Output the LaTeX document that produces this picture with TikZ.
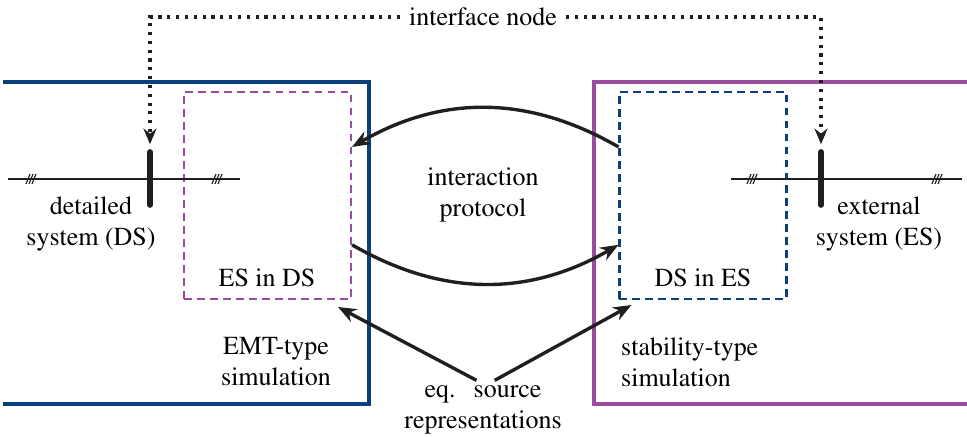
\documentclass[tikz,border=0pt]{standalone}
\usepackage[T1]{fontenc}
\usepackage{mathptmx}
\usetikzlibrary{arrows.meta,positioning}
\definecolor{simBlue}{HTML}{0B3F7E}
\definecolor{simPurple}{HTML}{9A4C9E}

\begin{document}
\begin{tikzpicture}[x=0.385pt, y=-0.385pt,
    simbox/.style={line width=1.2pt},
    subbox/.style={draw, dash pattern=on 3pt off 2pt, line width=0.8pt, minimum width=64.3pt, minimum height=79.7pt, inner sep=0pt},
    txt/.style={align=center},
    arr/.style={-{Stealth[length=7pt,width=5.5pt]}, line width=1.3pt, color=black!88},
    dotarr/.style={dash pattern=on 1.2pt off 2.2pt, line width=1.2pt, -{Stealth[length=6pt,width=5pt]}, color=black!88},
    bus/.style={line width=0.8pt, color=black!88},
    bar/.style={line width=2.2pt, line cap=round, color=black!88},
    hash/.style={line width=0.45pt, color=black!88}
  ]
    \useasboundingbox (0,0) rectangle (967,437);

    % simulation domains
    \draw[simbox, simBlue] (3,82) -- (369,82) -- (369,404) -- (3,404);
    \draw[simbox, simPurple] (967,82) -- (594,82) -- (594,404) -- (967,404);
    \node[subbox, simPurple] (esds) at (267.5,195.5) {};
    \node[subbox, simBlue] (dses) at (703,195.5) {};

    % buses
    \coordinate (ifDS) at (150,152);
    \coordinate (ifES) at (821,152);
    \draw[bus] (8,179) -- (240,179);
    \draw[bus] (731,179) -- (962,179);
    \foreach \c in {31,217,752,937}
      \foreach \d in {-3,0,3}
        \draw[hash] (\c+\d-2,184) -- (\c+\d+2,174);
    \draw[bar] (ifDS) -- ++(0,53);
    \draw[bar] (ifES) -- ++(0,53);

    % labels
    \node[txt] (iface) at (483,17) {interface node};
    \node[txt] (ds) at (91,224) {detailed\\system (DS)};
    \node[txt] (es) at (879,224) {external\\system (ES)};
    \node[txt] (esdslbl) at (267,278) {ES in DS};
    \node[txt] (dseslbl) at (703,278) {DS in ES};
    \node[txt] (emt) at (276,362) {EMT-type\\simulation};
    \node[align=left, anchor=west] (stab) at (612,362) {stability-type\\simulation};
    \node[txt] (proto) at (483,195) {interaction\\protocol};
    \node[txt] (eqsrc) at (483,410) {eq.\hspace{7pt}source\\representations};

    % interface node pointers
    \draw[dotarr] (iface.west) -| ([yshift=3pt]ifDS);
    \draw[dotarr] (iface.east) -| ([yshift=3pt]ifES);

    % interaction protocol
    \draw[arr] ([yshift=18.7pt]dses.west) to[bend right=30] ([yshift=18.7pt]esds.east);
    \draw[arr] ([yshift=-19pt]esds.east) to[bend right=30] ([yshift=-19pt]dses.west);

    % equivalent sources
    \draw[arr] ([xshift=-2.5pt,yshift=-1.5pt]eqsrc.north) -- ([shift={(-14,7)}]esds.south east);
    \draw[arr] ([xshift=4.5pt,yshift=-1.5pt]eqsrc.north) -- ([shift={(13,5)}]dses.south west);
\end{tikzpicture}
\end{document}
